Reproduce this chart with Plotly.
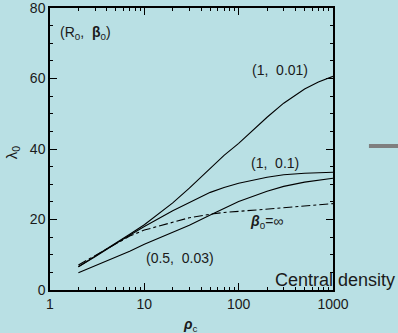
import plotly.graph_objects as go

rho = [2, 3, 5, 7, 10, 20, 30, 50, 70, 100, 200, 300, 500, 700, 1000]
lam_1_001 = [6.6, 9.5, 13.3, 15.8, 18.5, 24.7, 28.9, 34.6, 38.2, 41.6, 49.0, 53.0, 57.0, 59.0, 60.6]
lam_1_01 = [6.6, 9.4, 13.2, 15.6, 18.0, 22.5, 24.9, 27.7, 29.1, 30.3, 32.0, 32.7, 33.1, 33.3, 33.4]
lam_05_003 = [4.9, 6.8, 9.3, 11.0, 13.0, 16.5, 18.4, 21.3, 23.2, 25.1, 28.0, 29.4, 30.6, 31.2, 31.7]
lam_inf = [7.1, 9.8, 13.2, 15.3, 17.0, 19.3, 20.5, 21.5, 22.0, 22.3, 23.0, 23.4, 23.9, 24.2, 24.5]

x_major = [1, 10, 100, 1000]
x_major_text = ["1", "10", "100", "1000"]
x_minor = [2, 3, 4, 5, 6, 7, 8, 9, 20, 30, 40, 50, 60, 70, 80, 90, 200, 300, 400, 500, 600, 700, 800, 900]
y_major = [0, 20, 40, 60, 80]

BG = "#b9e0e4"
INK = "#1a1a1a"
FONT = "Liberation Sans, Arial, sans-serif"

fig = go.Figure()
for ys, dash in [(lam_1_001, "solid"), (lam_1_01, "solid"), (lam_05_003, "solid"), (lam_inf, "dashdot")]:
    fig.add_trace(go.Scatter(x=rho, y=ys, mode="lines",
                             line=dict(color="black", width=1.1, dash=dash),
                             showlegend=False, hoverinfo="skip"))

ann_font = dict(family=FONT, size=14, color=INK)
anns = [
    dict(x=0.377, y=73, text="(R<sub>0</sub>,  <b>β</b><sub>0</sub>)"),
    dict(x=2.436, y=62.5, text="(1,  0.01)"),
    dict(x=2.39, y=36, text="(1,  0.1)"),
    dict(x=1.38, y=9, text="(0.5,  0.03)"),
    dict(x=2.30, y=19.2, text="<b><i>β</i></b><sub>0</sub>=∞"),
]
for a in anns:
    fig.add_annotation(xref="x", yref="y", showarrow=False, font=ann_font, **a)

# axis titles
fig.add_annotation(xref="paper", yref="paper", x=0.495, y=-0.124, xanchor="center", yanchor="middle",
                   text="<b><i>ρ</i></b><sub>c</sub>", showarrow=False,
                   font=dict(family=FONT, size=14, color=INK))
fig.add_annotation(xref="paper", yref="paper", x=-0.134, y=0.489, xanchor="center", yanchor="middle",
                   text="λ<sub>0</sub>", textangle=-90, showarrow=False,
                   font=dict(family=FONT, size=15, color=INK))

fig.add_annotation(xref="paper", yref="paper", x=0.788, y=0.035, xanchor="left", yanchor="middle",
                   text="Central density", showarrow=False,
                   font=dict(family=FONT, size=18, color=INK))

fig.add_shape(type="line", xref="paper", yref="paper", x0=1.127, x1=1.25, y0=0.511, y1=0.511,
              line=dict(color="#7f7f7f", width=4))

axis_common = dict(showline=True, linecolor="black", linewidth=1.5, mirror="ticks",
                   ticks="inside", ticklen=7, tickcolor="black", showgrid=False, zeroline=False,
                   automargin=False, ticklabeloverflow="allow",
                   tickfont=dict(family=FONT, size=14, color=INK))

fig.update_xaxes(type="log", range=[0, 3], tickmode="array", tickvals=x_major, ticktext=x_major_text,
                 minor=dict(ticks="inside", ticklen=3, tickcolor="black", showgrid=False,
                            tickmode="array", tickvals=x_minor),
                 **axis_common)
fig.update_yaxes(range=[0, 80], tickmode="array", tickvals=y_major,
                 minor=dict(ticks="inside", ticklen=3, tickcolor="black", dtick=5, showgrid=False),
                 **axis_common)

fig.update_layout(width=398, height=333, paper_bgcolor=BG, plot_bgcolor=BG,
                  margin=dict(l=50, r=65, t=8, b=43, autoexpand=False),
                  font=dict(family=FONT, color=INK))
fig.write_html("out.html", config={"displayModeBar": False},
               post_script="document.body.style.margin='0';document.body.style.background='%s';" % BG)
